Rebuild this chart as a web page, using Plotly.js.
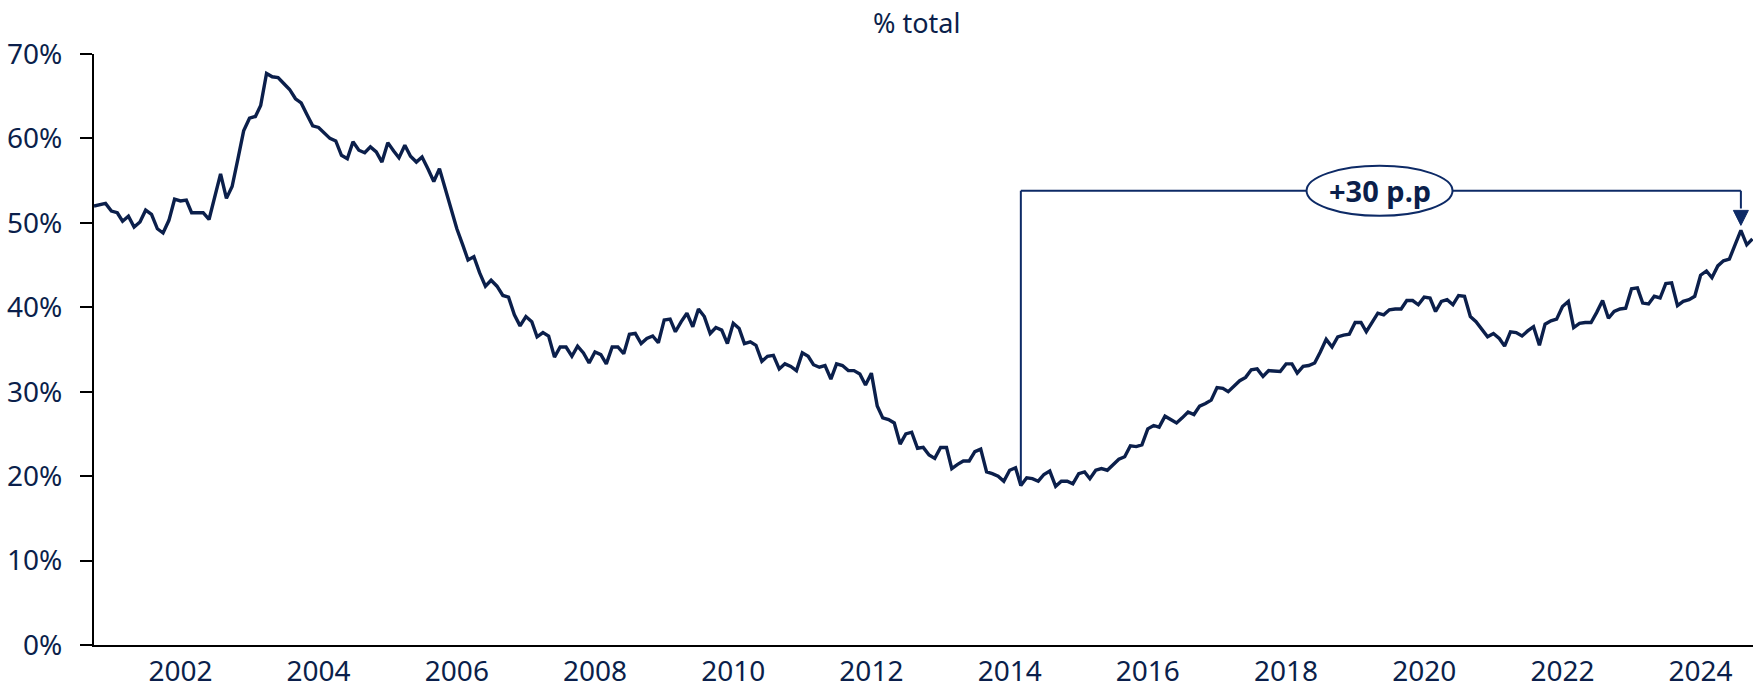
<!DOCTYPE html>
<html>
<head>
<meta charset="utf-8">
<script src="https://cdn.plot.ly/plotly-3.0.1.min.js"></script>
<style>
html,body{margin:0;padding:0;background:#fff;}
#chart{width:1760px;height:691px;}
</style>
</head>
<body>
<div id="chart"></div>
<script>
// Monthly series, first month = October 2000
const startYear = 2000;
const startMonth = 10;
const shareValues = [
  52.0,52.2,52.3,51.4,51.2,50.2,50.8,49.5,50.1,51.5,51.0,49.3,
  48.8,50.3,52.8,52.6,52.7,51.2,51.2,51.2,50.4,53.1,55.8,52.9,
  54.3,57.6,60.9,62.4,62.6,63.9,67.7,67.3,67.2,66.5,65.8,64.7,
  64.2,62.8,61.5,61.3,60.6,60.0,59.7,58.0,57.6,59.6,58.6,58.3,
  59.0,58.4,57.2,59.5,58.5,57.7,59.2,57.9,57.2,57.8,56.4,54.9,
  56.4,54.0,51.6,49.3,47.4,45.6,46.0,44.1,42.5,43.2,42.5,41.4,
  41.2,39.1,37.8,38.9,38.3,36.5,37.0,36.6,34.1,35.3,35.3,34.2,
  35.4,34.6,33.4,34.7,34.4,33.3,35.3,35.3,34.5,36.8,36.9,35.7,
  36.3,36.6,35.8,38.5,38.6,37.1,38.3,39.3,37.7,39.8,38.9,36.9,
  37.6,37.3,35.7,38.1,37.5,35.7,35.9,35.5,33.6,34.2,34.3,32.7,
  33.3,33.0,32.5,34.6,34.2,33.2,32.9,33.1,31.5,33.3,33.1,32.5,
  32.5,32.1,30.8,32.2,28.3,26.9,26.7,26.3,23.8,25.0,25.2,23.3,
  23.4,22.5,22.1,23.4,23.4,20.9,21.4,21.8,21.8,22.9,23.2,20.5,
  20.3,20.0,19.4,20.7,21.0,18.9,19.8,19.7,19.4,20.2,20.6,18.8,
  19.4,19.4,19.1,20.3,20.5,19.7,20.7,20.9,20.7,21.3,22.0,22.3,
  23.6,23.5,23.7,25.6,26.0,25.8,27.1,26.7,26.3,26.9,27.6,27.3,
  28.3,28.6,29.0,30.5,30.4,30.0,30.7,31.3,31.7,32.6,32.7,31.8,
  32.5,32.5,32.4,33.3,33.3,32.2,33.0,33.1,33.4,34.7,36.2,35.3,
  36.5,36.7,36.8,38.2,38.2,37.1,38.2,39.3,39.1,39.7,39.8,39.8,
  40.8,40.8,40.3,41.2,41.1,39.5,40.7,40.9,40.3,41.4,41.3,38.9,
  38.3,37.4,36.5,36.9,36.3,35.4,37.1,37.0,36.6,37.2,37.7,35.5,
  38.0,38.4,38.6,40.1,40.7,37.6,38.1,38.2,38.2,39.4,40.8,38.7,
  39.5,39.8,39.9,42.2,42.3,40.5,40.4,41.3,41.1,42.8,42.9,40.2,
  40.7,40.9,41.3,43.8,44.3,43.5,44.9,45.5,45.7,47.4,49.1,47.4,
  48.1
];
const yTickValues = [0,10,20,30,40,50,60,70];
const yTickLabels = ['0%','10%','20%','30%','40%','50%','60%','70%'];
const subtitleText = '% total';
const changeLabel = '+30 p.p';
const lowIndex = 161;   // March 2014
const highIndex = 286;  // August 2024
const bracketLevel = 53.8;

function monthDate(i){
  const t = (startMonth - 1) + i;
  const y = startYear + Math.floor(t/12);
  const m = (t % 12) + 1;
  return y + '-' + String(m).padStart(2,'0') + '-01';
}
const months = shareValues.map((v,i)=>monthDate(i));

const navy = '#0b1f4b';
const annColor = '#0d2a66';
const fontFam = '"Noto Sans", "Open Sans", sans-serif';

const lowDate = months[lowIndex];
const highDate = months[highIndex];
const lowVal = shareValues[lowIndex];
const highVal = shareValues[highIndex];

const trace = {
  x: months, y: shareValues, type: 'scatter', mode: 'lines',
  line: {color: navy, width: 3.4}, hoverinfo: 'x+y'
};

const layout = {
  width: 1760, height: 691,
  margin: {l: 94, r: 7, t: 54, b: 46},
  paper_bgcolor: '#fff', plot_bgcolor: '#fff',
  showlegend: false,
  font: {family: fontFam, color: navy, size: 28},
  xaxis: {
    type: 'date',
    range: ['2000-10-01', '2024-10-04'],
    tick0: '2002-01-01', dtick: 'M24', tickformat: '%Y',
    showgrid: false, zeroline: false,
    showline: true, linecolor: '#000', linewidth: 2,
    ticks: '', ticklabelstandoff: 0,
    tickfont: {family: fontFam, size: 28, color: navy}
  },
  yaxis: {
    range: [0, 70], tickmode: 'array', tickvals: yTickValues, ticktext: yTickLabels,
    showgrid: false, zeroline: false,
    showline: true, linecolor: '#000', linewidth: 2,
    ticks: 'outside', ticklen: 12, tickwidth: 2, tickcolor: '#000',
    ticklabelstandoff: 12,
    tickfont: {family: fontFam, size: 28, color: navy}
  },
  shapes: [
    {type: 'line', xref: 'x', yref: 'y', x0: lowDate, x1: lowDate, y0: lowVal, y1: bracketLevel,
     line: {color: annColor, width: 2}},
    {type: 'line', xref: 'x', yref: 'y', x0: lowDate, x1: highDate, y0: bracketLevel, y1: bracketLevel,
     line: {color: annColor, width: 2}},
    {type: 'line', xref: 'x', yref: 'y', x0: highDate, x1: highDate, y0: bracketLevel, y1: highVal + 2.6,
     line: {color: annColor, width: 2}},
    {type: 'path', xref: 'x', yref: 'y', xsizemode: 'pixel', ysizemode: 'pixel',
     xanchor: highDate, yanchor: highVal + 0.6,
     path: 'M -7.5 15 L 7.5 15 L 0 0 Z', fillcolor: annColor, line: {color: annColor, width: 1}},
    {type: 'circle', xref: 'x', yref: 'y', xsizemode: 'pixel', ysizemode: 'pixel',
     xanchor: '2019-05-10', yanchor: bracketLevel,
     x0: -73, x1: 73, y0: -25, y1: 25,
     fillcolor: '#fff', line: {color: annColor, width: 2}}
  ],
  annotations: [
    {xref: 'x', yref: 'y', x: '2019-05-10', y: bracketLevel, text: '<b>' + changeLabel + '</b>',
     showarrow: false, xanchor: 'center', yanchor: 'middle',
     font: {family: fontFam, size: 29, color: navy}},
    {xref: 'paper', yref: 'paper', x: 0.496, y: 1.0525, text: subtitleText,
     showarrow: false, xanchor: 'center', yanchor: 'middle',
     font: {family: fontFam, size: 27, color: navy}}
  ]
};

Plotly.newPlot('chart', [trace], layout, {displayModeBar: false, staticPlot: true});
</script>
</body>
</html>
